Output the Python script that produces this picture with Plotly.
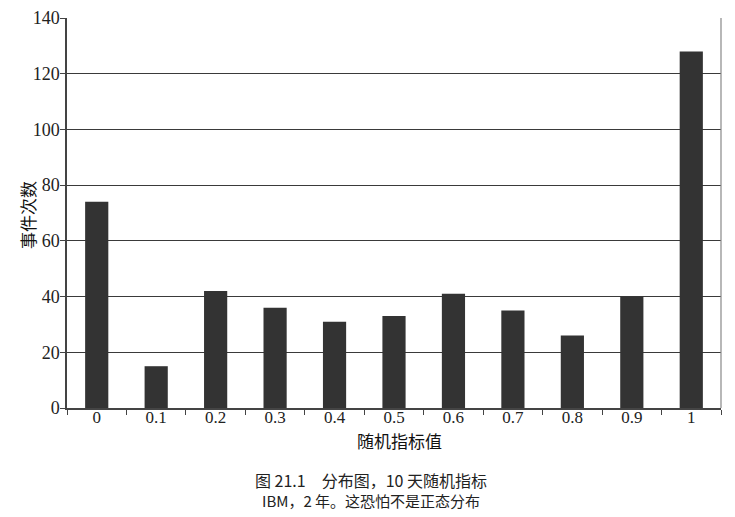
import plotly.graph_objects as go

categories = ["0", "0.1", "0.2", "0.3", "0.4", "0.5", "0.6", "0.7", "0.8", "0.9", "1"]
counts = [74, 15, 42, 36, 31, 33, 41, 35, 26, 40, 128]
y_ticks = [0, 20, 40, 60, 80, 100, 120, 140]

x_title = "随机指标值"
y_title = "事件次数"
caption1 = "图 21.1　分布图，10 天随机指标"
caption2 = "IBM，2 年。这恐怕不是正态分布"

serif = "Liberation Serif, DejaVu Serif, serif"
cjk = "Noto Sans CJK SC, sans-serif"

fig = go.Figure(go.Bar(x=categories, y=counts, marker=dict(color="#333333", line=dict(width=0))))

fig.update_layout(
    width=735, height=517,
    margin=dict(l=67, r=14, t=18, b=109, autoexpand=False),
    paper_bgcolor="white", plot_bgcolor="white",
    bargap=0.61,
    showlegend=False,
    font=dict(family=serif, size=16, color="#222222"),
)

fig.update_xaxes(
    type="category", automargin=False,
    tickson="boundaries", ticks="outside", ticklen=5, tickcolor="#444444",
    showline=True, linecolor="#444444", linewidth=1.5,
    showgrid=False,
    ticklabelstandoff=-7,
    tickfont=dict(family=serif, size=17, color="#222222"),
)
fig.update_yaxes(
    range=[0, 140], tickvals=y_ticks, automargin=False,
    ticks="outside", ticklen=5, tickcolor="#444444",
    showline=True, linecolor="#444444", linewidth=1.5,
    showgrid=True, gridcolor="#3a3a3a", gridwidth=1,
    zeroline=False,
    ticklabelstandoff=-3,
    tickfont=dict(family=serif, size=18, color="#222222"),
)

# light frame on the right side
fig.add_shape(type="line", xref="paper", yref="paper", x0=1, x1=1, y0=0, y1=1,
              line=dict(color="#888888", width=1.2))

# axis titles
fig.add_annotation(text=y_title, xref="paper", yref="paper", x=-0.0596, y=0.495,
                   xanchor="center", yanchor="middle", textangle=-90, showarrow=False,
                   font=dict(family=cjk, size=17, color="#111111"))
fig.add_annotation(text=x_title, xref="paper", yref="paper", x=0.508, y=-0.0835,
                   xanchor="center", yanchor="middle", showarrow=False, borderpad=0,
                   font=dict(family=cjk, size=17, color="#111111"))

# captions
fig.add_annotation(text=caption1, xref="paper", yref="paper", x=0.465, y=-0.1846,
                   xanchor="center", yanchor="middle", showarrow=False,
                   font=dict(family=cjk, size=16, color="#222222"))
fig.add_annotation(text=caption2, xref="paper", yref="paper", x=0.465, y=-0.238,
                   xanchor="center", yanchor="middle", showarrow=False,
                   font=dict(family=cjk, size=15, color="#222222"))

fig.write_html("out.html", config={"displayModeBar": False},
               post_script="document.body.style.margin='0';document.body.style.overflow='hidden';")
